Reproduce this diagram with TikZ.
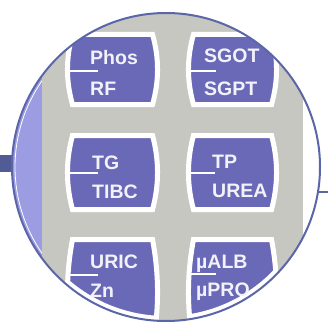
\documentclass[tikz,border=0pt]{standalone}
\usepackage{fontspec}
\setmainfont{Liberation Sans}
\definecolor{panelgrey}{HTML}{C6C7C1}
\definecolor{keyblue}{HTML}{6A69B7}
\definecolor{stripblue}{HTML}{9C9CE2}
\definecolor{rimblue}{HTML}{5A66A8}
\definecolor{keytext}{HTML}{F2F2F8}
% barrel shaped key: left, top, right, bottom
\newcommand{\keyshape}[4]{({#1+5},#2) -- ({#3-5},#2) .. controls ({#3+1.7},{#2+(#4-#2)/3}) and ({#3+1.7},{#4-(#4-#2)/3}) .. ({#3-5},#4) -- ({#1+5},#4) .. controls ({#1-1.7},{#4-(#4-#2)/3}) and ({#1-1.7},{#2+(#4-#2)/3}) .. cycle}

\begin{document}
\begin{tikzpicture}[x=1pt, y=-1pt,
	keybox/.style={fill=keyblue, draw=white, line width=5pt},
	keylabel/.style={text=keytext, font=\fontsize{19.5}{20}\selectfont\bfseries, anchor=base west, inner sep=0pt},
	divider/.style={draw=white, line width=1.6pt},
	rim/.style={draw=rimblue, line width=2pt}]
	\useasboundingbox (0,0) rectangle (328,329);
	\coordinate (c) at (166,167);
	\fill[rimblue!90!black] (0,155) rectangle (14,172);
	\begin{scope}
	\clip (c) circle (154pt);
	\fill[white] (0,0) rectangle (328,329);
	\fill[stripblue] (0,0) rectangle (42,329);
	\draw[white, line width=.8pt] (c) ++(145:151pt) arc (145:215:151pt);
	\fill[panelgrey] (42,0) rectangle (303,329);
	% keys
	\path[keybox] \keyshape{67.5}{34.5}{157.5}{104.5};
	\path[keybox] \keyshape{188.5}{34.5}{276.5}{104.5};
	\path[keybox] \keyshape{67.5}{135.5}{157.5}{209.5};
	\path[keybox] \keyshape{188.5}{135.5}{276.5}{209.5};
	\path[keybox] \keyshape{67.5}{239.5}{157.5}{345};
	\path[keybox] \keyshape{188.5}{239.5}{276.5}{345};
	\begin{scope}
	\clip \keyshape{67.5}{239.5}{157.5}{345} \keyshape{188.5}{239.5}{276.5}{345};
	\fill[white, even odd rule] (c) circle (154pt) (c) circle (149pt);
	\end{scope}
	% dividers
	\draw[divider] (69,71) -- (98,71);
	\draw[divider] (189,71) -- (216,71);
	\draw[divider] (69,173) -- (98,173);
	\draw[divider] (189,173) -- (215,173);
	\draw[divider] (69,275) -- (98,275);
	\draw[divider] (189,274) -- (216,274);
	% labels
	\node[keylabel] (phos) at (90,64) {Phos};
	\node[keylabel] (rf) at (90,95) {RF};
	\node[keylabel] (sgot) at (204,63) {SGOT};
	\node[keylabel] (sgpt) at (204,95) {SGPT};
	\node[keylabel] (tg) at (92,169) {TG};
	\node[keylabel] (tibc) at (92,198) {TIBC};
	\node[keylabel] (tp) at (212,168) {TP};
	\node[keylabel] (urea) at (212,197) {UREA};
	\node[keylabel] (uric) at (90,268) {URIC};
	\node[keylabel] (zn) at (90,297) {Zn};
	\node[keylabel] (ualb) at (196,268) {µALB};
	\node[keylabel] (upro) at (196,296) {µPRO};
	\end{scope}
	\draw[rim] (c) circle (154pt);
	\coordinate (rimpt) at (318,192);
	\coordinate (stubend) at (328,192);
	\draw[rim] (rimpt) -- (stubend);
\end{tikzpicture}
\end{document}
